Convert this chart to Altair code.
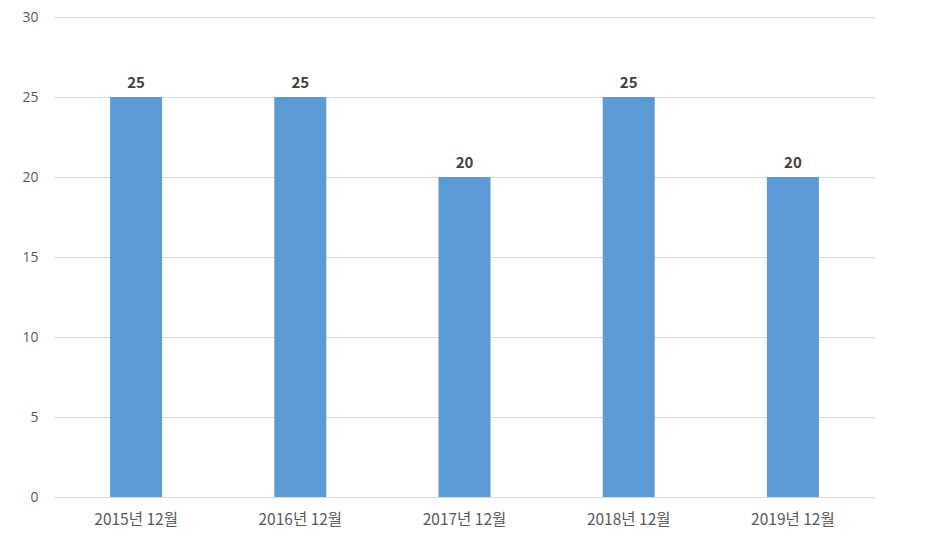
import altair as alt
import pandas as pd

categories = ["2015년 12월", "2016년 12월", "2017년 12월", "2018년 12월", "2019년 12월"]
values = [25, 25, 20, 25, 20]

df = pd.DataFrame({"cat": categories, "val": values})

FONT = "Noto Sans CJK KR"

base = alt.Chart(df).encode(
    x=alt.X("cat:N", sort=categories, title=None,
            scale=alt.Scale(paddingInner=0.68, paddingOuter=0.34),
            axis=alt.Axis(labelAngle=0, labelFont=FONT, labelFontSize=15.5, labelColor="#595959",
                          ticks=False, domainColor="#d9d9d9", labelPadding=15, grid=False)),
    y=alt.Y("val:Q", title=None,
            scale=alt.Scale(domain=[0, 30], nice=False),
            axis=alt.Axis(values=[0, 5, 10, 15, 20, 25, 30], labelFont="Open Sans", labelFontSize=14,
                          labelColor="#595959", ticks=False, domain=False, gridColor="#d9d9d9",
                          labelPadding=16)),
)

bars = base.mark_bar(color="#5B9BD5", size=52)
labels = base.mark_text(baseline="bottom", dy=-6, font=FONT, fontSize=15, fontWeight="bold",
                        color="#404040").encode(text="val:Q")

chart = (bars + labels).properties(
    width=821, height=480,
    autosize=alt.AutoSizeParams(type="none"),
    padding={"left": 46, "top": 9, "right": 60, "bottom": 50},
    background="white",
).configure_view(stroke=None, strokeWidth=0)

chart.save("out.html", embed_options={"renderer": "svg", "actions": False})
